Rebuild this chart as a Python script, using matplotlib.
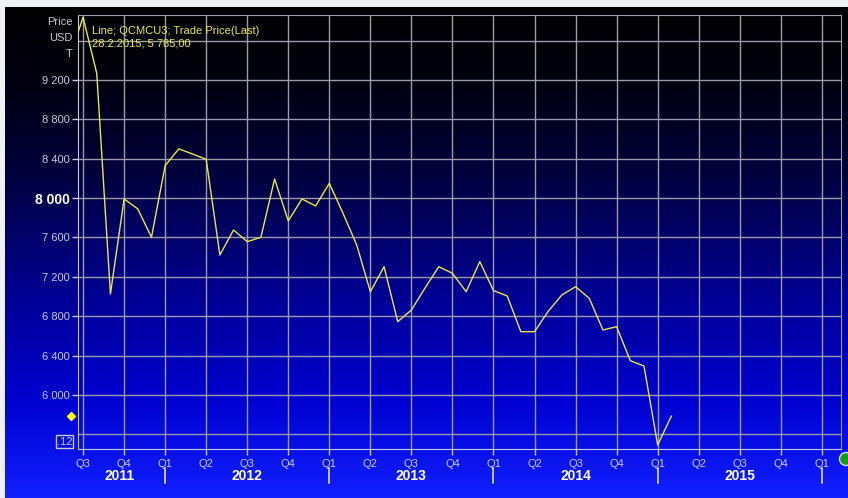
import matplotlib
matplotlib.use("Agg")
import matplotlib.pyplot as plt
import numpy as np
from matplotlib.colors import LinearSegmentedColormap
from matplotlib.patches import Rectangle, Ellipse

plt.rcParams['font.family'] = ['Liberation Sans', 'DejaVu Sans']

# QCMCU3 monthly trade price, Jun 2011 .. Feb 2015 (month index counted from Jan 2011)
first_month = 5
prices = [9420, 9837, 9268, 7026, 7991, 7890, 7602,
          8330, 8500, 8448, 8394, 7422, 7676, 7557, 7602, 8194, 7768, 7991, 7920,
          8150, 7846, 7524, 7049, 7303, 6744, 6863, 7087, 7303, 7236, 7049, 7354,
          7060, 7006, 6643, 6643, 6850, 7016, 7100, 6982, 6660, 6694, 6348, 6294,
          5492, 5785]
months = np.arange(first_month, first_month + len(prices))

quarter_ticks = np.arange(6, 61, 3)
quarter_labels = ['Q%d' % ((m // 3) % 4 + 1) for m in quarter_ticks]
year_labels = ['2011', '2012', '2013', '2014', '2015']
year_pos = [8.7, 18, 30, 42, 54]
year_bars = [12, 24, 36, 48, 60]
price_ticks = np.arange(6000, 9201, 400)

W, H = 848, 498
fig = plt.figure(figsize=(W / 100, H / 100), dpi=100, facecolor='#eef2f4')

# gradient panel
bg = fig.add_axes([5 / W, 0, 843 / W, 491 / H])
cmap = LinearSegmentedColormap.from_list('bg', [
    (0.0, '#000000'), (0.15, '#00000f'), (0.35, '#000040'),
    (0.6, '#000098'), (0.8, '#0000d0'), (1.0, '#1020ff')])
bg.imshow(np.linspace(0, 1, 256).reshape(-1, 1), cmap=cmap, aspect='auto')
bg.axis('off')

ax = fig.add_axes([78 / W, 1 - 449 / H, 763 / W, 434 / H])
ax.patch.set_alpha(0)
grid_c = '#9a9aa8'
ax.plot(months, prices, color='#e8e84a', lw=1.0, zorder=3)
ax.set_xlim(5.63, 61.4)
ax.set_ylim(5451, 9860)

ax.set_xticks(quarter_ticks)
ax.set_xticklabels(quarter_labels)
ax.set_yticks(price_ticks)
ax.set_yticklabels(['{:,}'.format(v).replace(',', ' ') for v in price_ticks])
ax.grid(True, color=grid_c, lw=1.0)
for v in (5600, 9600):
    ax.axhline(v, color=grid_c, lw=1.0)
ax.tick_params(axis='both', colors='#c8c8d8', labelsize=8, length=4, width=1, pad=2)
ax.tick_params(axis='x', labelcolor='#c8c8d8', pad=3)
for s in ax.spines.values():
    s.set_color(grid_c)
for s in ('left', 'bottom'):
    ax.spines[s].set_color('#c8c8d8')
for t in ax.get_yticklabels():
    if t.get_text() == '8 000':
        t.set_fontweight('bold')
        t.set_fontsize(10)
        t.set_color('white')

xt = ax.get_xaxis_transform()
for lab, x in zip(year_labels, year_pos):
    ax.text(x, -0.062, lab, transform=xt, ha='center', va='center',
            color='white', fontsize=10, fontweight='bold')
for x in year_bars:
    ax.plot([x, x], [-0.044, -0.078], transform=xt, color='#e0e0f0',
            lw=1.2, clip_on=False)

# last value marker on the price axis
ax.plot([-0.0092], [prices[-1]], transform=ax.get_yaxis_transform(),
        marker='D', ms=4, color='#ffff00', clip_on=False)

# axis unit labels
for lab, y in zip(['Price', 'USD', 'T'], [22, 38, 54]):
    fig.text(73 / W, 1 - y / H, lab, ha='right', va='center',
             color='#c8c8d8', fontsize=8)

ax.text(92 / W, 1 - 31 / H, 'Line; QCMCU3; Trade Price(Last)', transform=fig.transFigure,
        color='#e8e84a', fontsize=8, va='center')
ax.text(92 / W, 1 - 44 / H, '28.2.2015; 5 785,00', transform=fig.transFigure,
        color='#e8e84a', fontsize=8, va='center')

fig.add_artist(Rectangle((56 / W, 1 - 448 / H), 17 / W, 13 / H, transform=fig.transFigure,
                         facecolor='none', edgecolor='#c8c8d8', lw=1))
fig.text(64.5 / W, 1 - 441.5 / H, '.12', ha='center', va='center',
         color='#c8c8d8', fontsize=8)

fig.add_artist(Ellipse((846 / W, 1 - 459 / H), 13 / W, 13 / H, transform=fig.transFigure,
                       facecolor='#1a9a1a', edgecolor='#d0e0d0', lw=1))

fig.savefig('out.png', dpi=100, facecolor=fig.get_facecolor())
